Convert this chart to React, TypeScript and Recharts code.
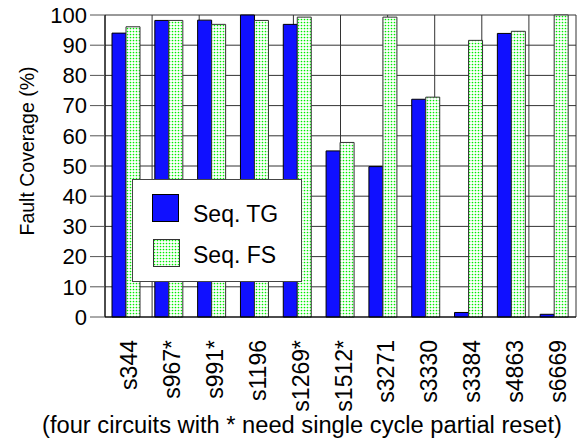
import React from 'react';
import { BarChart, Bar, XAxis, YAxis, CartesianGrid, Legend } from 'recharts';

const circuits = ['s344', 's967*', 's991*', 's1196', 's1269*', 's1512*', 's3271', 's3330', 's3384', 's4863', 's6669'];
const seqTG = [94, 98.2, 98.3, 100, 96.9, 55, 49.8, 72.1, 1.5, 93.9, 0.9];
const seqFS = [96.1, 98.2, 96.9, 98.2, 99.3, 57.8, 99.3, 72.8, 91.6, 94.6, 100];
const yTicks = [0, 10, 20, 30, 40, 50, 60, 70, 80, 90, 100];
const boundaryTicks = [0, 1, 2, 3, 4, 5, 6, 7, 8, 9, 10, 11];
const seriesNames = ['Seq. TG', 'Seq. FS'];
const yTitle = 'Fault Coverage (%)';
const xTitle = '(four circuits with * need single cycle partial reset)';

const data = circuits.map((name, i) => ({ name, tg: seqTG[i], fs: seqFS[i] }));

const FONT = '"Liberation Sans", Arial, Helvetica, sans-serif';
const BLUE = '#1010ff';

const XTick = (props: any) => {
  const { x, payload } = props;
  const cx = x + 3;
  const cy = 340;
  return (
    <text
      x={cx}
      y={cy}
      transform={`rotate(-90 ${cx} ${cy})`}
      textAnchor="end"
      dominantBaseline="central"
      fontFamily={FONT}
      fontSize={23}
      fill="#000"
    >
      {payload.value}
    </text>
  );
};

const renderYLabel = () => (
  <text
    x={27}
    y={151}
    transform="rotate(-90 27 151)"
    textAnchor="middle"
    dominantBaseline="central"
    fontFamily={FONT}
    fontSize={19.5}
    fill="#000"
  >
    {yTitle}
  </text>
);

const renderXLabel = () => (
  <text
    x={302}
    y={433}
    textAnchor="middle"
    fontFamily={FONT}
    fontSize={23}
    fill="#000"
    textLength={520}
    lengthAdjust="spacingAndGlyphs"
  >
    {xTitle}
  </text>
);

const renderLegend = (props: any) => {
  const payload = props.payload || [];
  const find = (key: string, fallback: string) => {
    const e = payload.find((p: any) => p.dataKey === key);
    return e ? e.value : fallback;
  };
  const tgLabel = find('tg', seriesNames[0]);
  const fsLabel = find('fs', seriesNames[1]);
  return (
    <svg width={170} height={103} style={{ display: 'block' }}>
      <rect x={0.5} y={0.5} width={169} height={102} fill="#fff" stroke="#444" strokeWidth={1} />
      <rect x={20.5} y={15.5} width={26} height={27} fill={BLUE} stroke="#000" strokeWidth={1} />
      <text x={61} y={43} fontFamily={FONT} fontSize={23} fill="#000">{tgLabel}</text>
      <rect x={21.5} y={60.5} width={26} height={27} fill="url(#fsDots)" stroke="#333" strokeWidth={1} />
      <text x={61} y={84} fontFamily={FONT} fontSize={23} fill="#000">{fsLabel}</text>
    </svg>
  );
};

export default function App() {
  return (
    <div style={{ position: 'absolute', left: 0, top: 0, width: 581, height: 440, background: '#fff' }}>
      <svg width={0} height={0} style={{ position: 'absolute' }}>
        <defs>
          <pattern id="fsDots" patternUnits="userSpaceOnUse" width={3} height={3}>
            <rect x={0} y={0} width={3} height={3} fill="#ffffff" />
            <circle cx={1.5} cy={1.5} r={0.85} fill="#00f000" />
          </pattern>
        </defs>
      </svg>
      <BarChart
        width={581}
        height={440}
        data={data}
        margin={{ top: 15, right: 5, left: 0, bottom: 0 }}
        barCategoryGap={7}
        barGap={0}
      >
        <CartesianGrid xAxisId="b" stroke="#333" strokeWidth={1} />
        <XAxis
          xAxisId="b"
          type="number"
          domain={[0, circuits.length]}
          ticks={boundaryTicks}
          allowDataOverflow
          height={0}
          axisLine={false}
          tickSize={13}
          tickLine={{ stroke: '#333' }}
          tickFormatter={() => ''}
        />
        <XAxis
          xAxisId="c"
          dataKey="name"
          type="category"
          height={123}
          interval={0}
          tickLine={false}
          axisLine={{ stroke: '#000', strokeWidth: 1 }}
          tick={<XTick />}
          label={{ content: renderXLabel }}
        />
        <YAxis
          width={105}
          domain={[0, 100]}
          ticks={yTicks}
          interval={0}
          tickSize={15}
          tickMargin={3}
          axisLine={{ stroke: '#000', strokeWidth: 1 }}
          tickLine={{ stroke: '#555' }}
          tick={{ fontFamily: FONT, fontSize: 22, fill: '#000' }}
          label={{ content: renderYLabel }}
        />
        <Legend
          layout="vertical"
          align="center"
          verticalAlign="middle"
          content={renderLegend}
          wrapperStyle={{ left: 132, top: 179, width: 170, height: 103 }}
        />
        <Bar
          xAxisId="c"
          dataKey="tg"
          name={seriesNames[0]}
          fill={BLUE}
          stroke="#000"
          strokeWidth={1}
          isAnimationActive={false}
        />
        <Bar
          xAxisId="c"
          dataKey="fs"
          name={seriesNames[1]}
          fill="url(#fsDots)"
          stroke="#333"
          strokeWidth={1}
          isAnimationActive={false}
        />
      </BarChart>
    </div>
  );
}
